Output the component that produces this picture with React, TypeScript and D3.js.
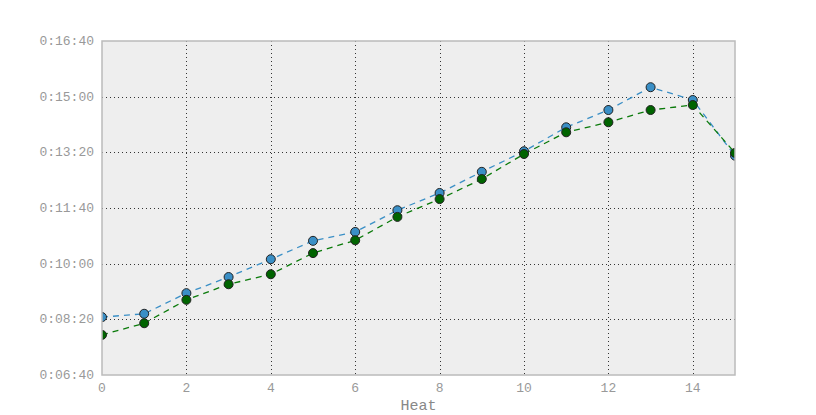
import React from 'react'
import * as d3 from 'd3'

// heat number 0..15, times in seconds
const heats = d3.range(0, 16)
const blueTimes = [504, 510, 547, 576, 608, 641, 657, 696, 727, 765, 802, 845, 876, 917, 894, 794]
const greenTimes = [472, 493, 535, 563, 581, 619, 642, 684, 716, 752, 797, 836, 854, 876, 885, 799]
const yTicks = [400, 500, 600, 700, 800, 900, 1000]
const xTicks = [0, 2, 4, 6, 8, 10, 12, 14]

const W = 816
const H = 415
const plot = { left: 102, right: 735, top: 41, bottom: 375 }

const fmt = (s: number) => {
  const m = Math.floor(s / 60)
  const sec = s % 60
  return `0:${String(m).padStart(2, '0')}:${String(sec).padStart(2, '0')}`
}

const App = () => {
  const x = d3.scaleLinear().domain([0, 15]).range([plot.left, plot.right])
  const y = d3.scaleLinear().domain([400, 1000]).range([plot.bottom, plot.top])

  const line = d3.line<number>()
    .x((_, i) => x(heats[i]))
    .y(d => y(d))

  const series = [
    { values: blueTimes, stroke: '#3a8fc6', fill: '#3a8fc6' },
    { values: greenTimes, stroke: '#0a7a0a', fill: '#006400' }
  ]

  return (
    <svg width={W} height={H} style={{ position: 'absolute', left: 0, top: 0 }}>
      <defs>
        <clipPath id='plotclip'>
          <rect x={plot.left} y={plot.top} width={plot.right - plot.left} height={plot.bottom - plot.top} />
        </clipPath>
      </defs>
      <rect x={plot.left} y={plot.top} width={plot.right - plot.left} height={plot.bottom - plot.top}
        fill='#eeeeee' />
      <g stroke='#333' strokeWidth={1} strokeDasharray='1,3'>
        {yTicks.slice(1, -1).map(t => (
          <line key={t} x1={plot.left} x2={plot.right} y1={Math.round(y(t)) + 0.5} y2={Math.round(y(t)) + 0.5} />
        ))}
        {xTicks.slice(1).map(t => (
          <line key={t} y1={plot.top} y2={plot.bottom} x1={Math.round(x(t)) + 0.5} x2={Math.round(x(t)) + 0.5} />
        ))}
      </g>
      <g clipPath='url(#plotclip)'>
        {series.map((s, si) => (
          <g key={si}>
            <path d={line(s.values) ?? ''} fill='none' stroke={s.stroke} strokeWidth={1.3} strokeDasharray='6,5' />
          </g>
        ))}
        {series.map((s, si) => (
          <g key={si}>
            {s.values.map((v, i) => (
              <circle key={i} cx={x(heats[i])} cy={y(v)} r={4.5} fill={s.fill} stroke='#222' strokeWidth={1} />
            ))}
          </g>
        ))}
      </g>
      <rect x={plot.left} y={plot.top} width={plot.right - plot.left} height={plot.bottom - plot.top}
        fill='none' stroke='#bbbbbb' strokeWidth={1.5} />
      <g fontFamily='Liberation Mono, monospace' fontSize={13} fill='#999'>
        {yTicks.map(t => (
          <text key={t} x={plot.left - 8} y={y(t)} dy='0.32em' textAnchor='end'>{fmt(t)}</text>
        ))}
        {xTicks.map(t => (
          <text key={t} x={x(t)} y={plot.bottom + 17} textAnchor='middle'>{t}</text>
        ))}
        <text x={(plot.left + plot.right) / 2} y={410} textAnchor='middle' fontSize={15} fill='#888'>Heat</text>
      </g>
    </svg>
  )
}

export default App
